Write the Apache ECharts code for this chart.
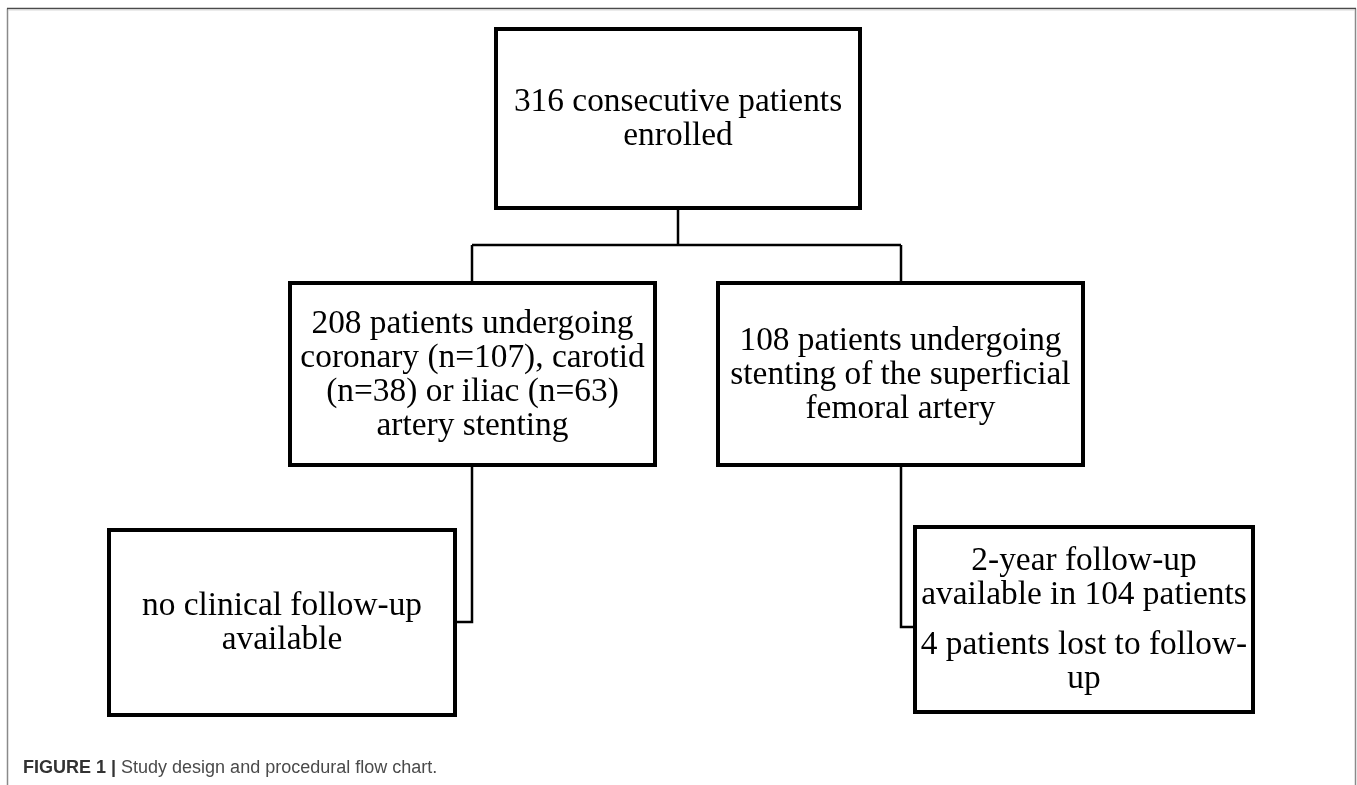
<!DOCTYPE html>
<html>
<head>
<meta charset="utf-8">
<script src="https://cdn.jsdelivr.net/npm/echarts@6/dist/echarts.min.js"></script>
<style>
  html, body { margin: 0; padding: 0; background: #fff; }
  #chart { width: 1357px; height: 785px; }
</style>
</head>
<body>
<div id="chart"></div>
<script>
// ---- content (texts) ----
const boxTexts = [
  [["316 consecutive patients", "enrolled"]],
  [["208 patients undergoing", "coronary (n=107), carotid", "(n=38) or iliac (n=63)", "artery stenting"]],
  [["108 patients undergoing", "stenting of the superficial", "femoral artery"]],
  [["no clinical follow-up", "available"]],
  [["2-year follow-up", "available in 104 patients"], ["4 patients lost to follow-", "up"]]
];
const captionBold = "FIGURE 1 |";
const captionText = " Study design and procedural flow chart.";

// ---- layout (page coordinates on hidden axes) ----
const boxLayout = [
  [496, 29, 860, 208],
  [290, 283, 655, 465],
  [718, 283, 1083, 465],
  [109, 530, 455, 715],
  [915, 527, 1253, 712]
];
const connectors = [
  [[678, 208], [678, 245]],
  [[472, 245], [901, 245]],
  [[472, 245], [472, 283]],
  [[901, 245], [901, 283]],
  [[472, 465], [472, 622], [455, 622]],
  [[901, 465], [901, 627], [915, 627]]
];

const FONT = '33.4px "Liberation Serif", "Times New Roman", serif';
const LINE_H = 34;
const PARA_GAP = 16;

const chart = echarts.init(document.getElementById('chart'), null, { renderer: 'canvas' });

const boxData = boxLayout.map((b, i) => ({ value: [b[0], b[1], b[2], b[3], i] }));
const connData = connectors.map((c, i) => ({ value: [i] }));

chart.setOption({
  animation: false,
  backgroundColor: '#ffffff',
  grid: { left: 0, right: 0, top: 0, bottom: 0 },
  xAxis: { type: 'value', min: 0, max: 1357, show: false },
  yAxis: { type: 'value', min: 0, max: 785, inverse: true, show: false },
  graphic: [
    { type: 'line', shape: { x1: 7.5, y1: 8.5, x2: 7.5, y2: 785 }, style: { stroke: '#8a8a8a', lineWidth: 1.5 }, z: 1 },
    { type: 'line', shape: { x1: 1355.5, y1: 8.5, x2: 1355.5, y2: 785 }, style: { stroke: '#8a8a8a', lineWidth: 1.5 }, z: 1 },
    { type: 'line', shape: { x1: 7, y1: 8.5, x2: 1356, y2: 8.5 }, style: { stroke: '#4a4a4a', lineWidth: 1.5 }, z: 1 },
    { type: 'line', shape: { x1: 8, y1: 10, x2: 1355, y2: 10 }, style: { stroke: '#d8d8d8', lineWidth: 1 }, z: 1 },
    {
      type: 'text', left: 23, top: 759, z: 10,
      style: {
        text: '{b|' + captionBold + '}{r|' + captionText + '}',
        rich: {
          b: { font: 'bold 18px "Liberation Sans", Arial, sans-serif', fill: '#333333' },
          r: { font: '18px "Liberation Sans", Arial, sans-serif', fill: '#4a4a4a' }
        }
      }
    }
  ],
  series: [
    {
      type: 'custom',
      coordinateSystem: 'cartesian2d',
      silent: true,
      z: 2,
      data: connData,
      renderItem: function (params, api) {
        const pts = connectors[params.dataIndex].map(p => api.coord(p));
        return {
          type: 'polyline',
          shape: { points: pts },
          style: { stroke: '#000', lineWidth: 2.5, fill: null }
        };
      }
    },
    {
      type: 'custom',
      coordinateSystem: 'cartesian2d',
      silent: true,
      z: 3,
      data: boxData,
      encode: { x: [0, 2], y: [1, 3] },
      renderItem: function (params, api) {
        const p0 = api.coord([api.value(0), api.value(1)]);
        const p1 = api.coord([api.value(2), api.value(3)]);
        const idx = api.value(4);
        const children = [{
          type: 'rect',
          shape: { x: p0[0], y: p0[1], width: p1[0] - p0[0], height: p1[1] - p0[1] },
          style: { fill: '#fff', stroke: '#000', lineWidth: 4 }
        }];
        const paras = boxTexts[idx];
        let nLines = 0;
        paras.forEach(p => nLines += p.length);
        const total = nLines * LINE_H + (paras.length - 1) * PARA_GAP;
        const cx = (p0[0] + p1[0]) / 2;
        const cy = (p0[1] + p1[1]) / 2;
        let y = cy - total / 2 + LINE_H / 2 + 1;
        paras.forEach((p, pi) => {
          p.forEach(line => {
            children.push({
              type: 'text',
              style: { text: line, x: cx, y: y, align: 'center', verticalAlign: 'middle', font: FONT, fill: '#000' }
            });
            y += LINE_H;
          });
          y += PARA_GAP;
        });
        return { type: 'group', children: children };
      }
    }
  ]
});
</script>
</body>
</html>
